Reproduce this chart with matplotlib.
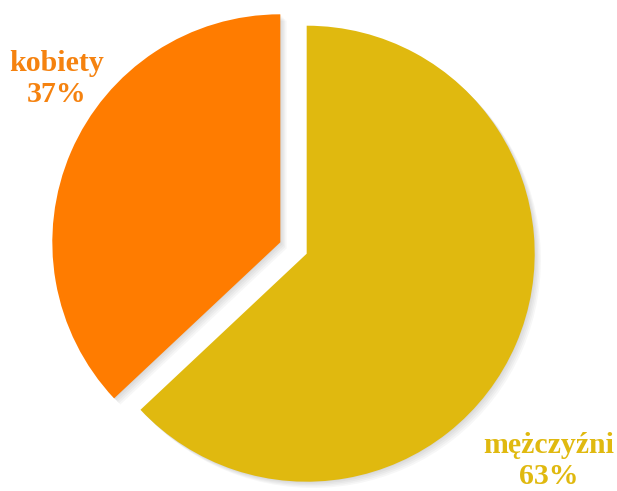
import matplotlib
matplotlib.use("Agg")
import matplotlib.pyplot as plt
import matplotlib.patheffects as pe

labels = ["mężczyźni", "kobiety"]
values = [63, 37]
colors = ["#E0B90F", "#FF7C00"]
explode_frac = [0.063, 0.063]

W, H = 617, 491
fig = plt.figure(figsize=(W / 100, H / 100), dpi=100)
ax = fig.add_axes([0, 0, 1, 1])

cx, cy, R = 293.5, H - 248, 228
explode = [e * R for e in explode_frac]
wedges, _ = ax.pie(values, colors=colors, explode=explode, startangle=90,
                   counterclock=False, center=(cx, cy), radius=R,
                   frame=True, wedgeprops=dict(linewidth=0))
ax.set_xlim(0, W)
ax.set_ylim(0, H)
ax.set_aspect("equal")
ax.axis("off")

shadow = [pe.SimplePatchShadow(offset=(d, -d), shadow_rgbFace="k", alpha=0.03)
          for d in (0.5, 1.5, 2.5, 3.5, 4.5)]
for w in wedges:
    w.set_path_effects(shadow + [pe.Normal()])

font = dict(family="Liberation Serif", fontweight="bold", fontsize=21.5,
            ha="center", va="center", linespacing=1.2)
ax.text(57, H - 79, f"{labels[1]}\n{values[1]}%", color="#F5820F", **font)
ax.text(549, H - 461, f"{labels[0]}\n{values[0]}%", color="#E0B90F", **font)

fig.savefig("out.png", dpi=100)
